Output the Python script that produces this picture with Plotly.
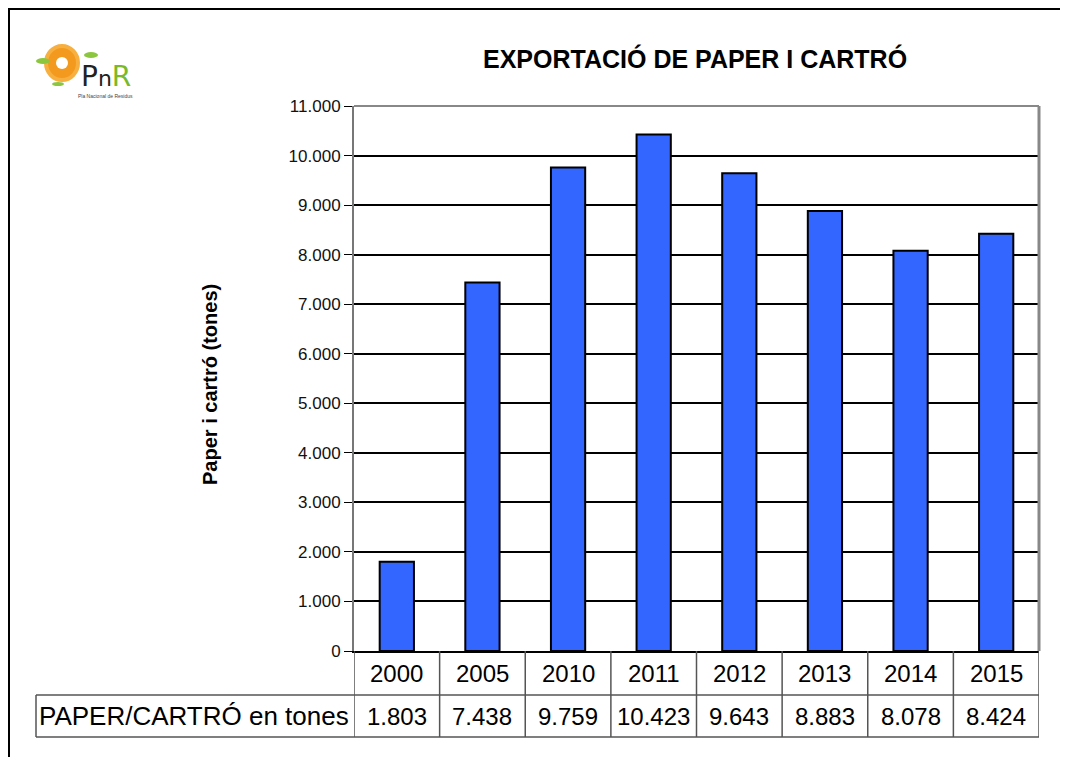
import plotly.graph_objects as go

years = ["2000", "2005", "2010", "2011", "2012", "2013", "2014", "2015"]
tones = [1803, 7438, 9759, 10423, 9643, 8883, 8078, 8424]
row_label = "PAPER/CARTRÓ en tones"
y_ticks = list(range(0, 11001, 1000))

W, H = 1068, 765
OFF = 8  # body margin of the page
L, R, T, B = 354, 1039, 106, 651  # plot area in window pixels


def px(x):
    return (x - L) / (R - L)


def py(y):
    return (B - y) / (B - T)


def fmt(v):
    return f"{v:,}".replace(",", ".")


FONT = "Liberation Sans, Arial, sans-serif"
FW, FH = W - 2 * OFF, H - 2 * OFF

fig = go.Figure(go.Bar(
    x=years,
    y=tones,
    marker=dict(color="#3366FF", line=dict(color="black", width=2)),
))

fig.update_layout(
    width=FW, height=FH,
    margin=dict(l=L - OFF, r=OFF + FW - R, t=T - OFF, b=OFF + FH - B),
    paper_bgcolor="white",
    plot_bgcolor="white",
    separators=",.",
    bargap=0.6,
    showlegend=False,
    font=dict(family=FONT, color="black"),
    xaxis=dict(
        type="category", range=[-0.5, len(years) - 0.5],
        showticklabels=False, ticks="",
        showline=True, linecolor="black", linewidth=2,
        showgrid=False,
    ),
    yaxis=dict(
        range=[0, 11000], tickvals=y_ticks,
        ticktext=[fmt(v) for v in y_ticks],
        showgrid=True, gridcolor="black", gridwidth=2,
        zeroline=False,
        showline=True, linecolor="#777777", linewidth=2,
        ticks="outside", ticklen=8, tickcolor="black", tickwidth=1,
        tickfont=dict(size=17, color="#111111"),
    ),
)

shapes = []
line_col = "#555555"
# plot border top/right (gray)
shapes.append(dict(type="line", xref="paper", yref="paper", x0=0, x1=1, y0=1, y1=1,
                   line=dict(color="#888888", width=2)))
shapes.append(dict(type="line", xref="paper", yref="paper", x0=1, x1=1, y0=0, y1=1,
                   line=dict(color="#888888", width=3)))

# data table below the chart
r1, r2 = py(695), py(737)
for i in range(len(years) + 1):
    shapes.append(dict(type="line", xref="x", yref="paper", x0=i - 0.5, x1=i - 0.5,
                       y0=0, y1=r2, line=dict(color=line_col, width=1.5)))
shapes.append(dict(type="line", xref="paper", yref="paper", x0=px(36), x1=1, y0=r1, y1=r1,
                   line=dict(color=line_col, width=1.5)))
shapes.append(dict(type="line", xref="paper", yref="paper", x0=px(36), x1=1, y0=r2, y1=r2,
                   line=dict(color=line_col, width=1.5)))
shapes.append(dict(type="line", xref="paper", yref="paper", x0=px(36), x1=px(36), y0=r1, y1=r2,
                   line=dict(color=line_col, width=1.5)))

# outer frame of the slide
shapes.append(dict(type="line", xref="paper", yref="paper", x0=px(8), x1=px(1080),
                   y0=py(9), y1=py(9), line=dict(color="black", width=2)))
shapes.append(dict(type="line", xref="paper", yref="paper", x0=px(9), x1=px(9),
                   y0=py(9), y1=py(780), line=dict(color="black", width=2)))

# simple logo: sun + leaves
shapes.append(dict(type="circle", xref="paper", yref="paper",
                   x0=px(46), x1=px(78), y0=py(80), y1=py(46),
                   fillcolor="#F39A1E", line=dict(color="#F7B040", width=4)))
shapes.append(dict(type="circle", xref="paper", yref="paper",
                   x0=px(56), x1=px(68), y0=py(69), y1=py(57),
                   fillcolor="white", line=dict(color="white", width=0)))
for (x0, y0, x1, y1) in [(36, 58, 50, 64), (84, 52, 98, 58), (52, 82, 64, 86)]:
    shapes.append(dict(type="circle", xref="paper", yref="paper",
                       x0=px(x0), x1=px(x1), y0=py(y1), y1=py(y0),
                       fillcolor="#8CC63F", line=dict(width=0)))
fig.update_layout(shapes=shapes)


def note(text, x, y, size, xref="paper", **kw):
    d = dict(text=text, xref=xref, yref="paper", x=x, y=y, showarrow=False,
             xanchor="center", yanchor="middle", font=dict(size=size, color="black"))
    d.update(kw)
    return d


ann = []
ann.append(note("<b>EXPORTACIÓ DE PAPER I CARTRÓ</b>", px(695), py(58), 25))
ann.append(note("<b>Paper i cartró (tones)</b>", px(210), py(385), 20, textangle=-90))
ann.append(note(row_label, px(37), py(716), 26, xanchor="left"))
# category axis: annotations placed by category index
for i, (yr, v) in enumerate(zip(years, tones)):
    ann.append(note(yr, i, py(673), 24, xref="x"))
    ann.append(note(fmt(v), i, py(716), 24, xref="x"))
ann.append(note("P<span style='font-size:22px'>n</span><span style='color:#7AB929'>R</span>",
                px(106), py(76), 28,
                font=dict(size=28, color="#222222", family="DejaVu Sans")))
ann.append(note("Pla Nacional de Residus", px(106), py(96), 5,
                font=dict(size=5, color="#444444")))
fig.update_layout(annotations=ann)

fig.write_html("out.html")
